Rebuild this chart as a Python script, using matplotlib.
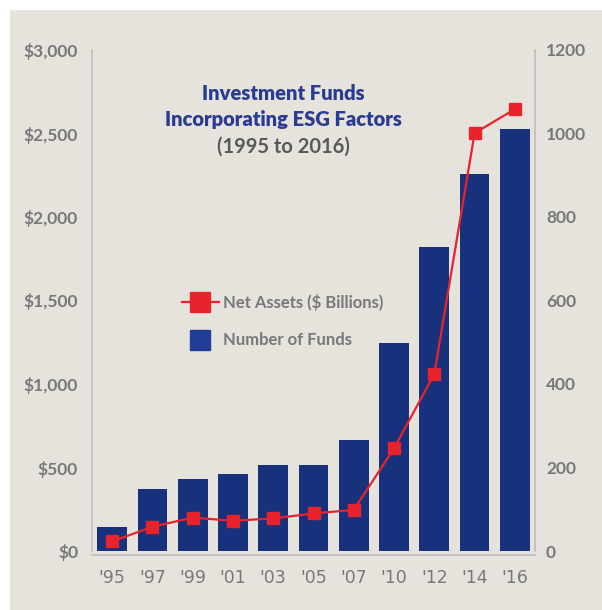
import numpy as np
import matplotlib.pyplot as plt
from matplotlib.patches import Rectangle

years = ["'95", "'97", "'99", "'01", "'03", "'05", "'07", "'10", "'12", "'14", "'16"]
num_funds = [58, 148, 173, 184, 205, 205, 265, 498, 727, 902, 1011]
net_assets = [57, 145, 200, 181, 195, 225, 246, 615, 1060, 2502, 2646]

navy = '#17317c'
red = '#e8232b'
grey = '#77787b'
bg = '#e6e3dc'
fnt = ['Lato', 'DejaVu Sans']

fig = plt.figure(figsize=(6.02, 6.10), dpi=100)
fig.patch.set_facecolor('white')
fig.patches.append(Rectangle((10/602, 0), 1, 1 - 10/610, transform=fig.transFigure,
                             facecolor=bg, edgecolor='none', zorder=-10))

ax = fig.add_axes([92/602, 1 - 551/610, (535 - 92)/602, (551 - 50)/610])
ax.set_facecolor('none')
ax2 = ax.twinx()

x = np.arange(len(years))
ax2.bar(x, num_funds, width=0.74, color=navy, zorder=2)
ax.plot(x, net_assets, color=red, lw=1.6, marker='s', ms=8, zorder=5)
ax.set_zorder(ax2.get_zorder() + 1)
ax.patch.set_visible(False)

ax.set_xlim(-0.5, 10.5)
ax.set_ylim(0, 3000)
ax2.set_ylim(0, 1200)

ax.set_yticks(np.arange(0, 3001, 500))
ax.set_yticklabels(['$0', '$500', '$1,000', '$1,500', '$2,000', '$2,500', '$3,000'])
ax2.set_yticks(np.arange(0, 1201, 200))
ax.set_xticks(x)
ax.set_xticklabels(years)

for a in (ax, ax2):
    a.tick_params(length=0, labelsize=12.5, labelcolor=grey)
    for lbl in a.get_xticklabels() + a.get_yticklabels():
        lbl.set_family(fnt)
        lbl.set_fontweight('bold')
    for s in a.spines.values():
        s.set_color('#c4c4c4')
        s.set_linewidth(1.2)
    a.spines['top'].set_visible(False)
    a.spines['bottom'].set_position(('outward', 3))
ax.tick_params(axis='y', pad=10)
ax.tick_params(axis='x', pad=10)
ax2.tick_params(axis='y', pad=8)

# title
tx = (283 - 92) / 443
ax.text(tx, 0.914, 'Investment Funds', transform=ax.transAxes, ha='center', va='center',
        fontsize=14.5, fontweight='heavy', color='#2a3b94', family=fnt)
ax.text(tx, 0.862, 'Incorporating ESG Factors', transform=ax.transAxes, ha='center', va='center',
        fontsize=14.5, fontweight='heavy', color='#2a3b94', family=fnt)
ax.text(tx, 0.808, '(1995 to 2016)', transform=ax.transAxes, ha='center', va='center',
        fontsize=14.5, color='#58595b', family=fnt, fontweight='bold')

# legend
ax.plot([1.73, 2.65], [1490, 1490], color=red, lw=1.6)
ax.plot([2.19], [1490], marker='s', ms=14, color=red)
ax.text(2.75, 1490, 'Net Assets ($ Billions)', ha='left', va='center', fontsize=12,
        color=grey, family=fnt, fontweight='bold')
ax.plot([2.19], [1265], marker='s', ms=14, color='#203d98')
ax.text(2.75, 1265, 'Number of Funds', ha='left', va='center', fontsize=12,
        color=grey, family=fnt, fontweight='bold')

fig.savefig('out.png', dpi=100, facecolor=fig.get_facecolor())
